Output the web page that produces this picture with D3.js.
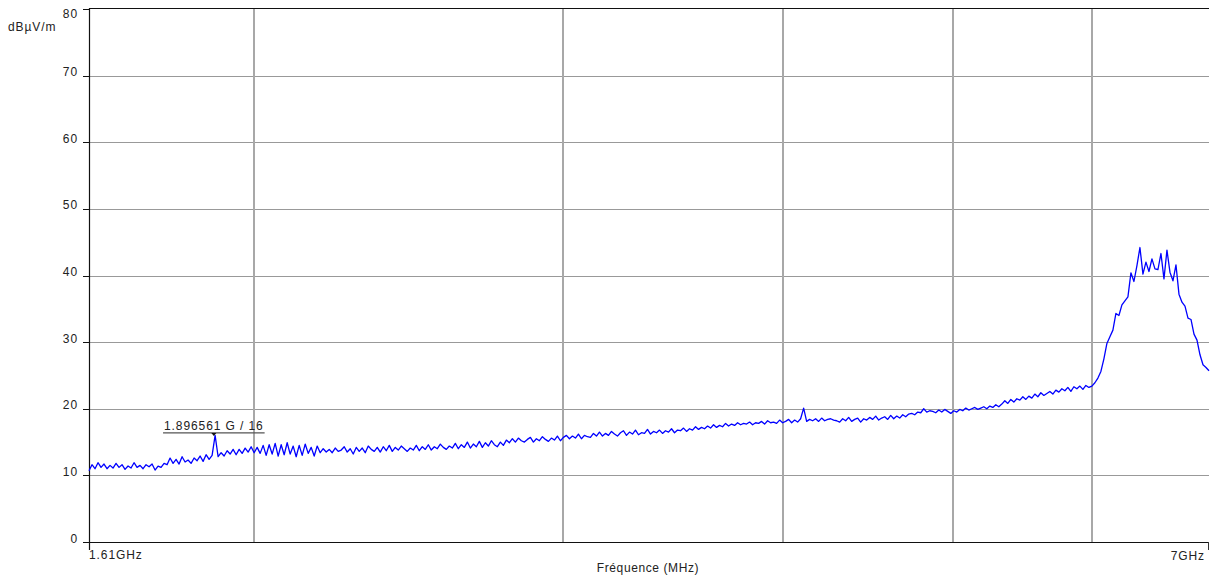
<!DOCTYPE html>
<html>
<head>
<meta charset="utf-8">
<script src="https://cdn.jsdelivr.net/npm/d3@7"></script>
<style>
  html, body { margin: 0; padding: 0; background: #fff; }
  svg { display: block; }
  text { font-family: "Liberation Sans", Arial, sans-serif; fill: #222; }
</style>
</head>
<body>
<svg id="chart" width="1211" height="576"></svg>
<script>
// Sweep definition (GHz) and axis settings
const startGHz = 1.61;
const stopGHz = 7;
const sweepPoints = 374;
const levelTicks = [0, 10, 20, 30, 40, 50, 60, 70, 80];
const freqGrid = [2, 3, 4, 5, 6];
const freqEndLabels = ["1.61GHz", "7GHz"];
const unitLabel = "dBµV/m";
const xTitle = "Fréquence (MHz)";

// Measured field strength (dBµV/m), one value per sweep point
const levels = [
  10.7, 11.6, 11.0, 11.9, 11.2, 11.7, 11.0, 11.5, 11.1, 11.8,
  11.2, 11.6, 10.9, 11.4, 11.1, 11.9, 11.2, 11.5, 11.0, 11.6,
  11.3, 11.7, 10.8, 11.4, 11.2, 11.8, 11.6, 12.6, 11.8, 12.4,
  11.7, 12.8, 12.0, 12.3, 11.8, 12.6, 12.2, 12.9, 12.1, 13.1,
  12.4, 13.0, 16.0, 12.8, 13.4, 12.9, 13.7, 13.2, 13.9, 13.1,
  13.9, 13.3, 14.1, 13.5, 14.3, 13.4, 14.2, 13.3, 14.5, 13.0,
  14.6, 13.2, 14.8, 12.9, 14.6, 13.1, 14.9, 13.2, 14.4, 12.8,
  14.5, 13.0, 14.7, 13.3, 14.2, 12.9, 14.4, 13.4, 14.0, 13.5,
  13.9, 13.4, 14.1, 13.6, 13.8, 14.3, 13.5, 14.0, 13.2, 14.2,
  13.6, 14.1, 13.4, 14.4, 13.9, 13.6, 14.2, 13.5, 14.3, 13.7,
  14.5, 13.6, 14.2, 13.8, 14.4, 14.0, 13.6, 14.1, 13.8, 14.5,
  13.7, 14.3, 13.9, 14.6, 13.8, 14.3, 14.0, 14.7, 14.2, 13.9,
  14.4, 14.1, 14.8, 14.0, 14.6, 14.2, 15.0, 14.1, 14.7, 14.3,
  15.1, 14.2, 14.9, 14.4, 15.2, 14.6, 14.3, 15.0, 14.5, 15.3,
  14.9, 15.5, 15.0, 15.6, 15.2, 15.0, 15.4, 15.7, 15.0, 15.5,
  15.2, 15.8, 15.4, 15.1, 15.6, 15.3, 15.9, 15.2, 15.7, 16.0,
  15.5, 15.9, 15.6, 16.2, 15.5, 16.0, 15.8, 15.7, 16.3, 15.9,
  16.5, 15.9, 16.3, 16.0, 16.6, 16.2, 15.9, 16.4, 16.7, 16.0,
  16.5, 16.2, 16.8, 16.1, 16.4, 16.3, 16.9, 16.2, 16.6, 16.4,
  16.8, 16.3, 16.7, 16.5, 17.0, 16.4, 16.8, 16.7, 17.1, 16.6,
  17.0, 16.8, 17.3, 16.9, 17.2, 17.0, 17.4, 17.1, 17.6, 17.2,
  17.5, 17.3, 17.8, 17.4, 17.7, 17.5, 17.9, 17.6, 17.8, 17.7,
  18.0, 17.6, 17.9, 17.8, 18.1, 17.7, 18.2, 17.9, 18.0, 17.8,
  18.3, 17.9, 18.1, 18.4, 17.9, 18.3, 18.0, 18.5, 20.1, 18.1,
  18.4, 18.2, 18.5, 18.1, 18.6, 18.2, 18.4, 18.5, 18.3, 18.2,
  18.0, 18.5, 18.2, 18.7, 18.1, 18.4, 18.6, 18.0, 18.5, 18.3,
  18.7, 18.4, 18.9, 18.3, 18.6, 18.8, 18.4, 19.0, 18.5, 18.9,
  18.6, 19.1, 18.8, 19.2, 19.3, 19.1, 19.5, 19.4, 20.0, 19.5,
  19.7, 19.6, 19.4, 19.8, 19.5, 19.9, 19.6, 19.3, 19.7, 19.5,
  19.9, 19.7, 20.1, 19.8, 20.0, 20.2, 19.9, 20.1, 20.3, 20.0,
  20.4, 20.2, 20.6, 20.3, 20.7, 21.2, 20.8, 21.4, 21.0, 21.5,
  21.3, 21.8, 21.4, 21.9, 21.6, 22.2, 21.8, 22.4, 22.0, 22.3,
  22.6, 22.2, 22.8, 22.5, 23.0, 22.7, 23.2, 22.6, 23.3, 23.0,
  23.4, 22.9, 23.5, 23.2, 23.4, 23.9, 24.6, 25.6, 27.5, 29.8,
  30.8, 31.8, 34.3, 34.0, 35.6, 36.2, 36.8, 40.4, 39.1, 41.5,
  44.2, 40.2, 42.0, 40.6, 42.5, 41.0, 40.9, 43.3, 39.5, 43.8,
  40.5, 39.2, 41.6, 37.2, 36.0, 35.4, 33.6, 33.4, 31.2, 30.3,
  28.1, 26.6, 26.2, 25.7
];

// Peak marker
const markerFreq = 1.896561;
const markerLevel = 16;
const markerLabel = "1.896561 G / 16";

const svg = d3.select("#chart");
const plotLeft = 89, plotRight = 1209, plotTop = 9, plotBottom = 542;

const x = d3.scaleLog().domain([startGHz, stopGHz]).range([plotLeft, plotRight]);
const y = d3.scaleLinear().domain([0, 80]).range([plotBottom, plotTop]);

// Sweep frequencies, log-spaced between start and stop
const freqs = d3.range(sweepPoints).map(i =>
  startGHz * Math.pow(stopGHz / startGHz, i / (sweepPoints - 1)));
const trace = freqs.map((f, i) => ({ f, v: levels[i] }));

// Horizontal grid
svg.append("g")
  .selectAll("line")
  .data(levelTicks.filter(t => t > 0 && t < 80))
  .join("line")
  .attr("x1", plotLeft).attr("x2", plotRight)
  .attr("y1", d => Math.round(y(d)) + 0.5).attr("y2", d => Math.round(y(d)) + 0.5)
  .attr("stroke", "#999").attr("stroke-width", 1);

// Vertical grid
svg.append("g")
  .selectAll("line")
  .data(freqGrid)
  .join("line")
  .attr("x1", d => Math.round(x(d))).attr("x2", d => Math.round(x(d)))
  .attr("y1", plotTop).attr("y2", plotBottom)
  .attr("stroke", "#a8a8a8").attr("stroke-width", 2);

// Frame: top and left edges, bottom axis
svg.append("line").attr("x1", plotLeft).attr("x2", plotRight)
  .attr("y1", plotTop - 0.5).attr("y2", plotTop - 0.5).attr("stroke", "#111").attr("stroke-width", 1.2);
svg.append("line").attr("x1", plotLeft + 0.5).attr("x2", plotLeft + 0.5)
  .attr("y1", plotTop - 1).attr("y2", plotBottom + 8).attr("stroke", "#111").attr("stroke-width", 1.2);
svg.append("line").attr("x1", plotLeft).attr("x2", plotRight)
  .attr("y1", plotBottom + 0.5).attr("y2", plotBottom + 0.5).attr("stroke", "#111").attr("stroke-width", 1.2);
svg.append("line").attr("x1", plotRight - 0.5).attr("x2", plotRight - 0.5)
  .attr("y1", plotBottom).attr("y2", plotBottom + 8).attr("stroke", "#333").attr("stroke-width", 1);

// Level axis ticks and labels
const yAxis = svg.append("g");
yAxis.selectAll("line")
  .data(levelTicks)
  .join("line")
  .attr("x1", plotLeft - 6).attr("x2", plotLeft)
  .attr("y1", d => Math.round(y(d)) + 0.5).attr("y2", d => Math.round(y(d)) + 0.5)
  .attr("stroke", "#111").attr("stroke-width", 1);
yAxis.selectAll("text")
  .data(levelTicks)
  .join("text")
  .attr("x", 78)
  .attr("y", d => Math.max(y(d) + 0.5, 18))
  .attr("text-anchor", "end")
  .attr("font-size", 12)
  .attr("letter-spacing", 0.9)
  .text(d => d);

svg.append("text")
  .attr("x", 8).attr("y", 31)
  .attr("font-size", 12).attr("letter-spacing", 0.9)
  .text(unitLabel);

// Frequency axis labels
svg.append("text")
  .attr("x", plotLeft).attr("y", 559)
  .attr("font-size", 12).attr("letter-spacing", 0.9)
  .text(freqEndLabels[0]);
svg.append("text")
  .attr("x", plotRight - 4).attr("y", 560)
  .attr("text-anchor", "end")
  .attr("font-size", 12).attr("letter-spacing", 0.9)
  .text(freqEndLabels[1]);
svg.append("text")
  .attr("x", 648).attr("y", 572)
  .attr("text-anchor", "middle")
  .attr("font-size", 12).attr("letter-spacing", 0.6)
  .text(xTitle);

// Spectrum trace
const line = d3.line().x(d => x(d.f)).y(d => y(d.v));
svg.append("path")
  .datum(trace)
  .attr("fill", "none")
  .attr("stroke", "#0000ff")
  .attr("stroke-width", 1.3)
  .attr("stroke-linejoin", "round")
  .attr("d", line);

// Marker: label, underline and pointer
const mx = x(markerFreq);
const my = y(markerLevel);
const mk = svg.append("g");
const mText = mk.append("text")
  .attr("x", mx).attr("y", my - 5)
  .attr("text-anchor", "middle")
  .attr("font-size", 12).attr("letter-spacing", 0.9)
  .text(markerLabel);
const bb = mText.node().getBBox();
mk.append("line")
  .attr("x1", bb.x - 1).attr("x2", bb.x + bb.width + 1)
  .attr("y1", my - 2.5).attr("y2", my - 2.5)
  .attr("stroke", "#555").attr("stroke-width", 1.2);
mk.append("path")
  .attr("d", `M${mx - 2.5},${my - 2.5} L${mx + 2.5},${my - 2.5} L${mx},${my + 0.5} Z`)
  .attr("fill", "#111");
</script>
</body>
</html>
